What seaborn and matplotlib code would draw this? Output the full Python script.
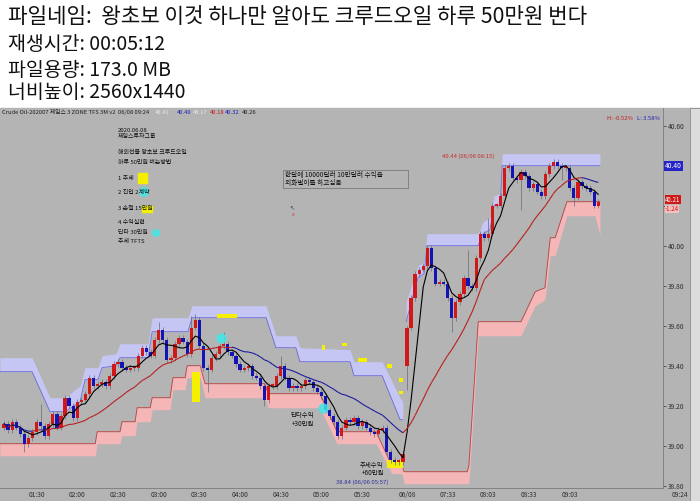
import numpy as np
import pandas as pd
import seaborn as sns
import matplotlib
matplotlib.use('Agg')
import matplotlib.pyplot as plt
from matplotlib.patches import Rectangle, Ellipse
from matplotlib.collections import LineCollection

# 3 minute bars (close of each bar)
closes = [
    39.11, 39.08, 39.12, 39.09, 39.06, 39.01, 39.04, 39.07, 39.12, 39.10,
    39.05, 39.11, 39.16, 39.09, 39.15, 39.24, 39.20, 39.14, 39.22, 39.23,
    39.26, 39.34, 39.30, 39.31, 39.32, 39.30, 39.35, 39.41, 39.42, 39.39,
    39.38, 39.39, 39.39, 39.45, 39.49, 39.47, 39.45, 39.53, 39.58, 39.53,
    39.43, 39.44, 39.51, 39.54, 39.52, 39.46, 39.59, 39.63, 39.50, 39.39,
    39.38, 39.44, 39.46, 39.50, 39.51, 39.47, 39.45, 39.41, 39.38, 39.39,
    39.40, 39.35, 39.34, 39.30, 39.23, 39.30, 39.30, 39.35, 39.40, 39.34,
    39.29, 39.30, 39.29, 39.30, 39.33, 39.32, 39.29, 39.27, 39.25, 39.18,
    39.15, 39.12, 39.05, 39.09, 39.13, 39.12, 39.14, 39.10, 39.12, 39.09,
    39.07, 39.06, 39.08, 39.09, 38.97, 38.93, 38.92, 38.92, 38.96,
    39.59, 39.74, 39.86, 39.88, 39.90, 39.99, 39.89, 39.81, 39.82, 39.81,
    39.74, 39.64, 39.72, 39.76, 39.84, 39.80, 39.79, 39.94, 40.06, 40.04,
    40.06, 40.20, 40.20, 40.25, 40.39, 40.40, 40.34, 40.33, 40.37, 40.35,
    40.29, 40.31, 40.27, 40.25, 40.36, 40.40, 40.42, 40.40, 40.39, 40.39,
    40.29, 40.24, 40.32, 40.30, 40.29, 40.27, 40.20, 40.22,
]
first_open = 39.09
gap_opens = {99: 39.40}
long_highs = {9: 39.21, 38: 39.62, 46: 39.65, 47: 39.66, 54: 39.57, 68: 39.45,
              99: 39.60, 114: 39.98, 119: 40.14}
long_lows = {5: 38.97, 50: 39.27, 64: 39.20, 94: 38.95, 99: 39.28, 110: 39.57,
             127: 40.18, 137: 40.33, 140: 40.20}

# upper (lavender) zone, two pieces
upper_a_idx = [-1, 6.9, 11.3, 15.0, 18.7, 19.9, 23.1, 24.1, 27.5, 28.5, 35.4, 36.4,
               45.2, 46.2, 64.4, 66.8, 71.7, 72.7, 85.0, 86.0, 92.9, 97.3, 98.0]
upper_a_top = [39.44, 39.44, 39.24, 39.24, 39.30, 39.39, 39.39, 39.45, 39.46, 39.51, 39.51, 39.64,
               39.64, 39.70, 39.70, 39.55, 39.55, 39.49, 39.48, 39.42, 39.42, 39.24, 39.22]
upper_a_bot = [39.37, 39.37, 39.17, 39.17, 39.22, 39.33, 39.33, 39.39, 39.40, 39.44, 39.44, 39.57,
               39.57, 39.64, 39.64, 39.49, 39.49, 39.42, 39.42, 39.35, 39.35, 39.13, 39.13]
upper_b_idx = [98.8, 101.7, 103.2, 103.9, 116.5, 117.7, 119.4, 120.4, 121.9, 122.4, 146.4]
upper_b_top = [39.72, 39.90, 39.92, 40.06, 40.06, 40.12, 40.14, 40.25, 40.26, 40.46, 40.46]
upper_b_bot = [39.62, 39.84, 39.86, 40.00, 40.00, 40.06, 40.08, 40.20, 40.20, 40.40, 40.40]

# lower (pink) zone
lower_idx = [-1, 22.4, 22.9, 28.5, 29.0, 32.2, 32.7, 35.9, 36.4, 40.8, 41.5, 44.5, 45.0,
             48.2, 49.4, 64.1, 64.9, 77.6, 81.8, 91.4, 95.3, 97.8, 98.3, 113.8, 114.2,
             116.5, 127.0, 130.5, 132.9, 134.2, 135.4, 138.3, 145.2, 146.4]
lower_top = [39.01, 39.01, 39.07, 39.07, 39.12, 39.12, 39.19, 39.19, 39.24, 39.24, 39.34, 39.34,
             39.40, 39.40, 39.31, 39.31, 39.26, 39.26, 39.07, 39.07, 38.90, 38.90, 38.87, 38.87,
             38.90, 39.62, 39.62, 39.77, 39.79, 40.04, 40.04, 40.22, 40.22, 40.22]
lower_bot = [38.95, 38.95, 39.01, 39.01, 39.05, 39.05, 39.12, 39.12, 39.18, 39.18, 39.28, 39.28,
             39.34, 39.34, 39.24, 39.24, 39.19, 39.19, 39.01, 39.01, 38.86, 38.86, 38.81, 38.81,
             38.81, 39.55, 39.55, 39.70, 39.73, 39.95, 39.95, 40.15, 40.15, 40.05]

time_ticks = [8, 18, 28, 38, 48, 58, 68, 78, 88, 99, 109, 119, 129, 139]
time_labels = ['01:30', '02:00', '02:30', '03:00', '03:30', '04:00', '04:30',
               '05:00', '05:30', '06/08', '07:33', '08:03', '08:33', '09:03']
price_ticks = [38.80, 39.00, 39.20, 39.40, 39.60, 39.80, 40.00, 40.20, 40.40, 40.60]
hidden_price_labels = [40.20, 40.40]   # covered by the price badges

GRAY = '#b4b4b4'
RED = '#d01818'
BLUE = '#1414b4'
YELLOW = '#f4f000'
CYAN = '#40e8e8'
KFONT = ['Noto Sans CJK KR', 'DejaVu Sans']

sns.set_theme(style='white')
plt.rcParams['font.family'] = KFONT

W, H = 700, 501
fig = plt.figure(figsize=(7.0, 5.01), dpi=100)


def fxy(x, y):
    return x / W, 1 - y / H


def ftext(x, y, s, size=4.6, color='#101010', **kw):
    fig.text(*fxy(x, y), s, fontsize=size, color=color, va='center',
             ha=kw.pop('ha', 'left'), zorder=kw.pop('zorder', 5), **kw)


def frect(x0, y0, x1, y1, **kw):
    fig.patches.append(Rectangle(fxy(x0, y1), (x1 - x0) / W, (y1 - y0) / H,
                                 transform=fig.transFigure, **kw))


def fdot(x, y, r, color, z=0.5):
    fig.patches.append(Ellipse(fxy(x, y), 2 * r / W, 2 * r / H, transform=fig.transFigure,
                               color=color, alpha=0.85, lw=0, zorder=z))


# gray chart area and right tool strip
frect(0, 108, W, H, color=GRAY, zorder=-2)
frect(690, 108, W, H, facecolor='#dcdcdc', edgecolor='#808080', lw=0.5, zorder=-1)

# header text
ftext(8, 17, '파일네임:  왕초보 이것 하나만 알아도 크루드오일 하루 50만원 번다', size=15.3)
ftext(8, 44, '재생시간: 00:05:12', size=14)
ftext(8, 70, '파일용량: 173.0 MB', size=14)
ftext(8, 93, '너비높이: 2560x1440', size=14)

ax = fig.add_axes([0, 1 - 488 / H, 663 / W, (488 - 108) / H])
ax.set_facecolor('none')
ax.set_zorder(1)

n = len(closes)
idx = np.arange(n)
opens = [first_open] + closes[:-1]
for k, v in gap_opens.items():
    opens[k] = v
df = pd.DataFrame({'i': idx, 'open': opens, 'close': closes})
df['top'] = df[['open', 'close']].max(axis=1)
df['bot'] = df[['open', 'close']].min(axis=1)
df['high'] = [long_highs.get(i, t + 0.014) for i, t in zip(df['i'], df['top'])]
df['low'] = [long_lows.get(i, b - 0.014) for i, b in zip(df['i'], df['bot'])]
df['color'] = np.where(df['close'] >= df['open'], RED, BLUE)

# zones
ax.fill_between(upper_a_idx, upper_a_bot, upper_a_top, color='#c6c6f4', lw=0, zorder=1)
ax.fill_between(upper_b_idx, upper_b_bot, upper_b_top, color='#c6c6f4', lw=0, zorder=1)
ax.plot(upper_a_idx, upper_a_bot, color='#6a6ad6', lw=0.6, zorder=1.5)
ax.plot(upper_b_idx, upper_b_bot, color='#6a6ad6', lw=0.6, zorder=1.5)
ax.fill_between(lower_idx, lower_bot, lower_top, color='#f4b6b6', lw=0, zorder=1)
ax.plot(lower_idx, lower_top, color='#c04040', lw=0.6, zorder=1.5)

# candles
ax.vlines(df['i'], df['low'], df['high'], colors='#6a6a7a', lw=0.5, zorder=3)
ax.bar(df['i'], (df['top'] - df['bot']).clip(lower=0.008), bottom=df['bot'],
       width=0.8, color=df['color'], lw=0, zorder=4)

# moving averages: 5-bar black, 20-bar coloured by direction
ma5 = df['close'].rolling(5, min_periods=1).mean()
ma20 = df['close'].rolling(20, min_periods=1).mean()
sns.lineplot(x=df['i'], y=ma5, color='black', lw=0.8, ax=ax, zorder=5)
pts = np.column_stack([idx, ma20.values])
segs = np.stack([pts[:-1], pts[1:]], axis=1)
seg_cols = ['#b82020' if d >= 0 else '#1c1c9c' for d in np.diff(ma20.values)]
ax.add_collection(LineCollection(segs, colors=seg_cols, lw=0.8, zorder=5))

# markers drawn on the chart
ax.add_patch(Rectangle((46.2, 39.22), 2.0, 0.15, color=YELLOW, lw=0, zorder=6))
ax.add_patch(Rectangle((52.3, 39.64), 4.9, 0.018, color=YELLOW, lw=0, zorder=6))
for x0, y0, w, h in [(78.1, 39.48, 0.8, 0.025), (83.0, 39.50, 1.3, 0.012), (87.0, 39.42, 2.2, 0.016),
                     (94.1, 39.39, 1.2, 0.02), (97.1, 39.32, 1.0, 0.02), (97.1, 39.26, 1.0, 0.016),
                     (94.1, 38.89, 4.0, 0.04)]:
    ax.add_patch(Rectangle((x0, y0), w, h, color=YELLOW, lw=0, zorder=2.5))
ax.scatter([53.3, 78.3], [39.54, 39.19], s=55, color=CYAN, alpha=0.85, lw=0, zorder=6)

ax.set_xlim(-0.98, 161.9)
ax.set_ylim(38.7885, 40.6885)
ax.set_xlabel('')
ax.set_ylabel('')
ax.yaxis.tick_right()
ax.set_yticks(price_ticks)
ax.set_yticklabels(['' if any(abs(p - h) < 1e-6 for h in hidden_price_labels) else f'{p:.2f}'
                    for p in price_ticks])
ax.set_xticks(time_ticks)
ax.set_xticklabels(time_labels)
ax.tick_params(axis='both', labelsize=4.8, colors='#303030', length=2, width=0.5, pad=1.5)
ax.tick_params(axis='x', length=1.5, pad=1)
for s in ['top', 'left']:
    ax.spines[s].set_visible(False)
for s in ['bottom', 'right']:
    ax.spines[s].set_color('#7a7a7a')
    ax.spines[s].set_linewidth(0.6)

# top info line
ftext(2, 112, 'Crude Oil-202007 제임스 3 ZONE TFS 3M v2  06/08 09:24', size=4.2, color='#202020')
for x, s, c in [(155, '40.41', '#e8e8e8'), (177, '40.40', '#1c1cb4'), (193, '40.17', '#e8e8e8'),
                (210, '40.18', '#c81818'), (225, '40.32', '#1c1cb4'), (242, '40.26', '#202020')]:
    ftext(x, 112, s, size=4.2, color=c)
ftext(607, 118, 'H: -0.52%', size=4.2, color='#c81818')
ftext(637, 118, 'L: 3.58%', size=4.2, color='#2020b4')

# study notes
frect(138, 173, 147, 183, color=YELLOW, zorder=0.5)
frect(142, 206, 152, 212, color=YELLOW, zorder=0.5)
fdot(144, 192, 5, CYAN)
fdot(156, 233, 4, CYAN)
for y, s in [(130, '2020.06.08'), (137, '제임스투자그룹'), (152, '해외선물 왕초보 크루드오일'),
             (162, '하루 50만원 버는방법'), (178, '1 추세'), (193, '2 진입 2계약'),
             (209, '3 손절 15만원'), (223, '4 수익실현'), (232, '단타 30만원'), (241, '추세 TFTS')]:
    ftext(118, y, s, size=4.3)

frect(283, 170, 408, 188, facecolor='none', edgecolor='#7a7a7a', lw=0.6, zorder=0.5)
ftext(285, 175, '한달에 10000달러 10만달러 수익을', size=4.8)
ftext(285, 183, '외화벌이를 하고싶음', size=4.8)
ftext(289, 209, '↖', size=4.5, color='#404040', family=['DejaVu Sans'])
ftext(292, 214, 'x', size=4, color='#d04040')

ftext(442, 156, '40.44 (06/08 08:15)', size=4.3, color='#c83030')
ftext(290, 415, '단타수익', size=4.6)
ftext(292, 424, '+30만원', size=4.6)
ftext(360, 465, '추세수익', size=4.6)
ftext(362, 473, '+60만원', size=4.6)
ftext(336, 482, '38.84 (06/06 05:57)', size=4.3, color='#3030a0')

# price badges on the right axis
ftext(665, 166, '40.40', size=4.8, color='white',
      bbox=dict(facecolor='#2424c8', edgecolor='none', pad=0.5))
ftext(665, 199.5, '40.21', size=4.4, color='white',
      bbox=dict(facecolor='#d01818', edgecolor='none', pad=0.2))
ftext(665, 209, '-1.24', size=4.4, color='#d01818',
      bbox=dict(facecolor='#f4c0c0', edgecolor='none', pad=0.1))
ftext(672, 495, '09:24', size=4.8, color='#303030')

fig.savefig('out.png', dpi=100)
